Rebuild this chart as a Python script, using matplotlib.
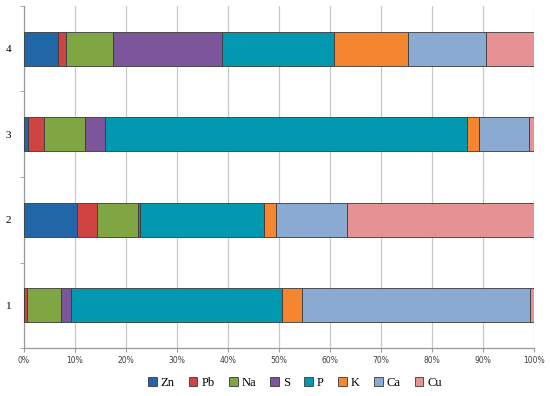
import numpy as np
import matplotlib
matplotlib.use("Agg")
import matplotlib.pyplot as plt
from matplotlib.ticker import PercentFormatter

# Sample labels, bottom to top
samples = ["1", "2", "3", "4"]
elements = ["Zn", "Pb", "Na", "S", "P", "K", "Ca", "Cu"]

# Share of each element (%) per sample
zn = [0.1, 10.3, 0.8, 6.7]
pb = [0.4, 4.0, 3.1, 1.6]
na = [6.8, 8.1, 8.1, 9.2]
s_ = [1.9, 0.3, 3.9, 21.4]
p_ = [41.4, 24.4, 71.0, 21.9]
k_ = [4.0, 2.4, 2.4, 14.4]
ca = [44.7, 13.8, 9.8, 15.4]
cu = [0.7, 36.7, 0.9, 9.4]

colors = ["#2166a6", "#cf4342", "#7fa642", "#7d559b",
          "#0198b0", "#f5862f", "#8aaad2", "#e69194"]

series = [zn, pb, na, s_, p_, k_, ca, cu]

fig = plt.figure(figsize=(5.5, 3.96), dpi=100)
ax = fig.add_axes([0.0436, 0.121, 0.9273, 0.864])

ypos = np.arange(1, len(samples) + 1)
left = np.zeros(len(samples))
for name, vals, col in zip(elements, series, colors):
    vals = np.array(vals, dtype=float)
    ax.barh(ypos, vals, left=left, height=0.4, color=col,
            edgecolor="#3a3a3a", linewidth=0.6, label=name, zorder=3)
    left += vals

ax.set_xlim(0, 100)
ax.set_ylim(0.5, len(samples) + 0.5)
ax.set_xticks(np.arange(0, 101, 10))
ax.xaxis.set_major_formatter(PercentFormatter(decimals=0))
ax.grid(axis="x", color="#c8c8c8", linewidth=0.9, zorder=0)

ax.set_yticks(ypos)
ax.set_yticklabels(samples, fontfamily="Liberation Serif", fontsize=8)
ax.set_yticks(np.arange(0.5, len(samples) + 1, 1.0), minor=True)
ax.tick_params(axis="y", which="major", length=0, pad=9)
ax.tick_params(axis="y", which="minor", length=3, color="#9a9a9a")
ax.tick_params(axis="x", length=3, color="#9a9a9a", labelsize=5.5,
               labelcolor="#404040", pad=3)

for side in ["top", "right"]:
    ax.spines[side].set_visible(False)
for side in ["left", "bottom"]:
    ax.spines[side].set_color("#9a9a9a")
    ax.spines[side].set_linewidth(0.9)

fig.legend(loc="center", bbox_to_anchor=(0.536, 0.033), ncol=8, frameon=False,
           prop={"family": "Liberation Serif", "size": 9},
           handlelength=0.7, handleheight=0.7, handletextpad=0.3,
           columnspacing=1.15)

fig.savefig("out.png", dpi=100)
